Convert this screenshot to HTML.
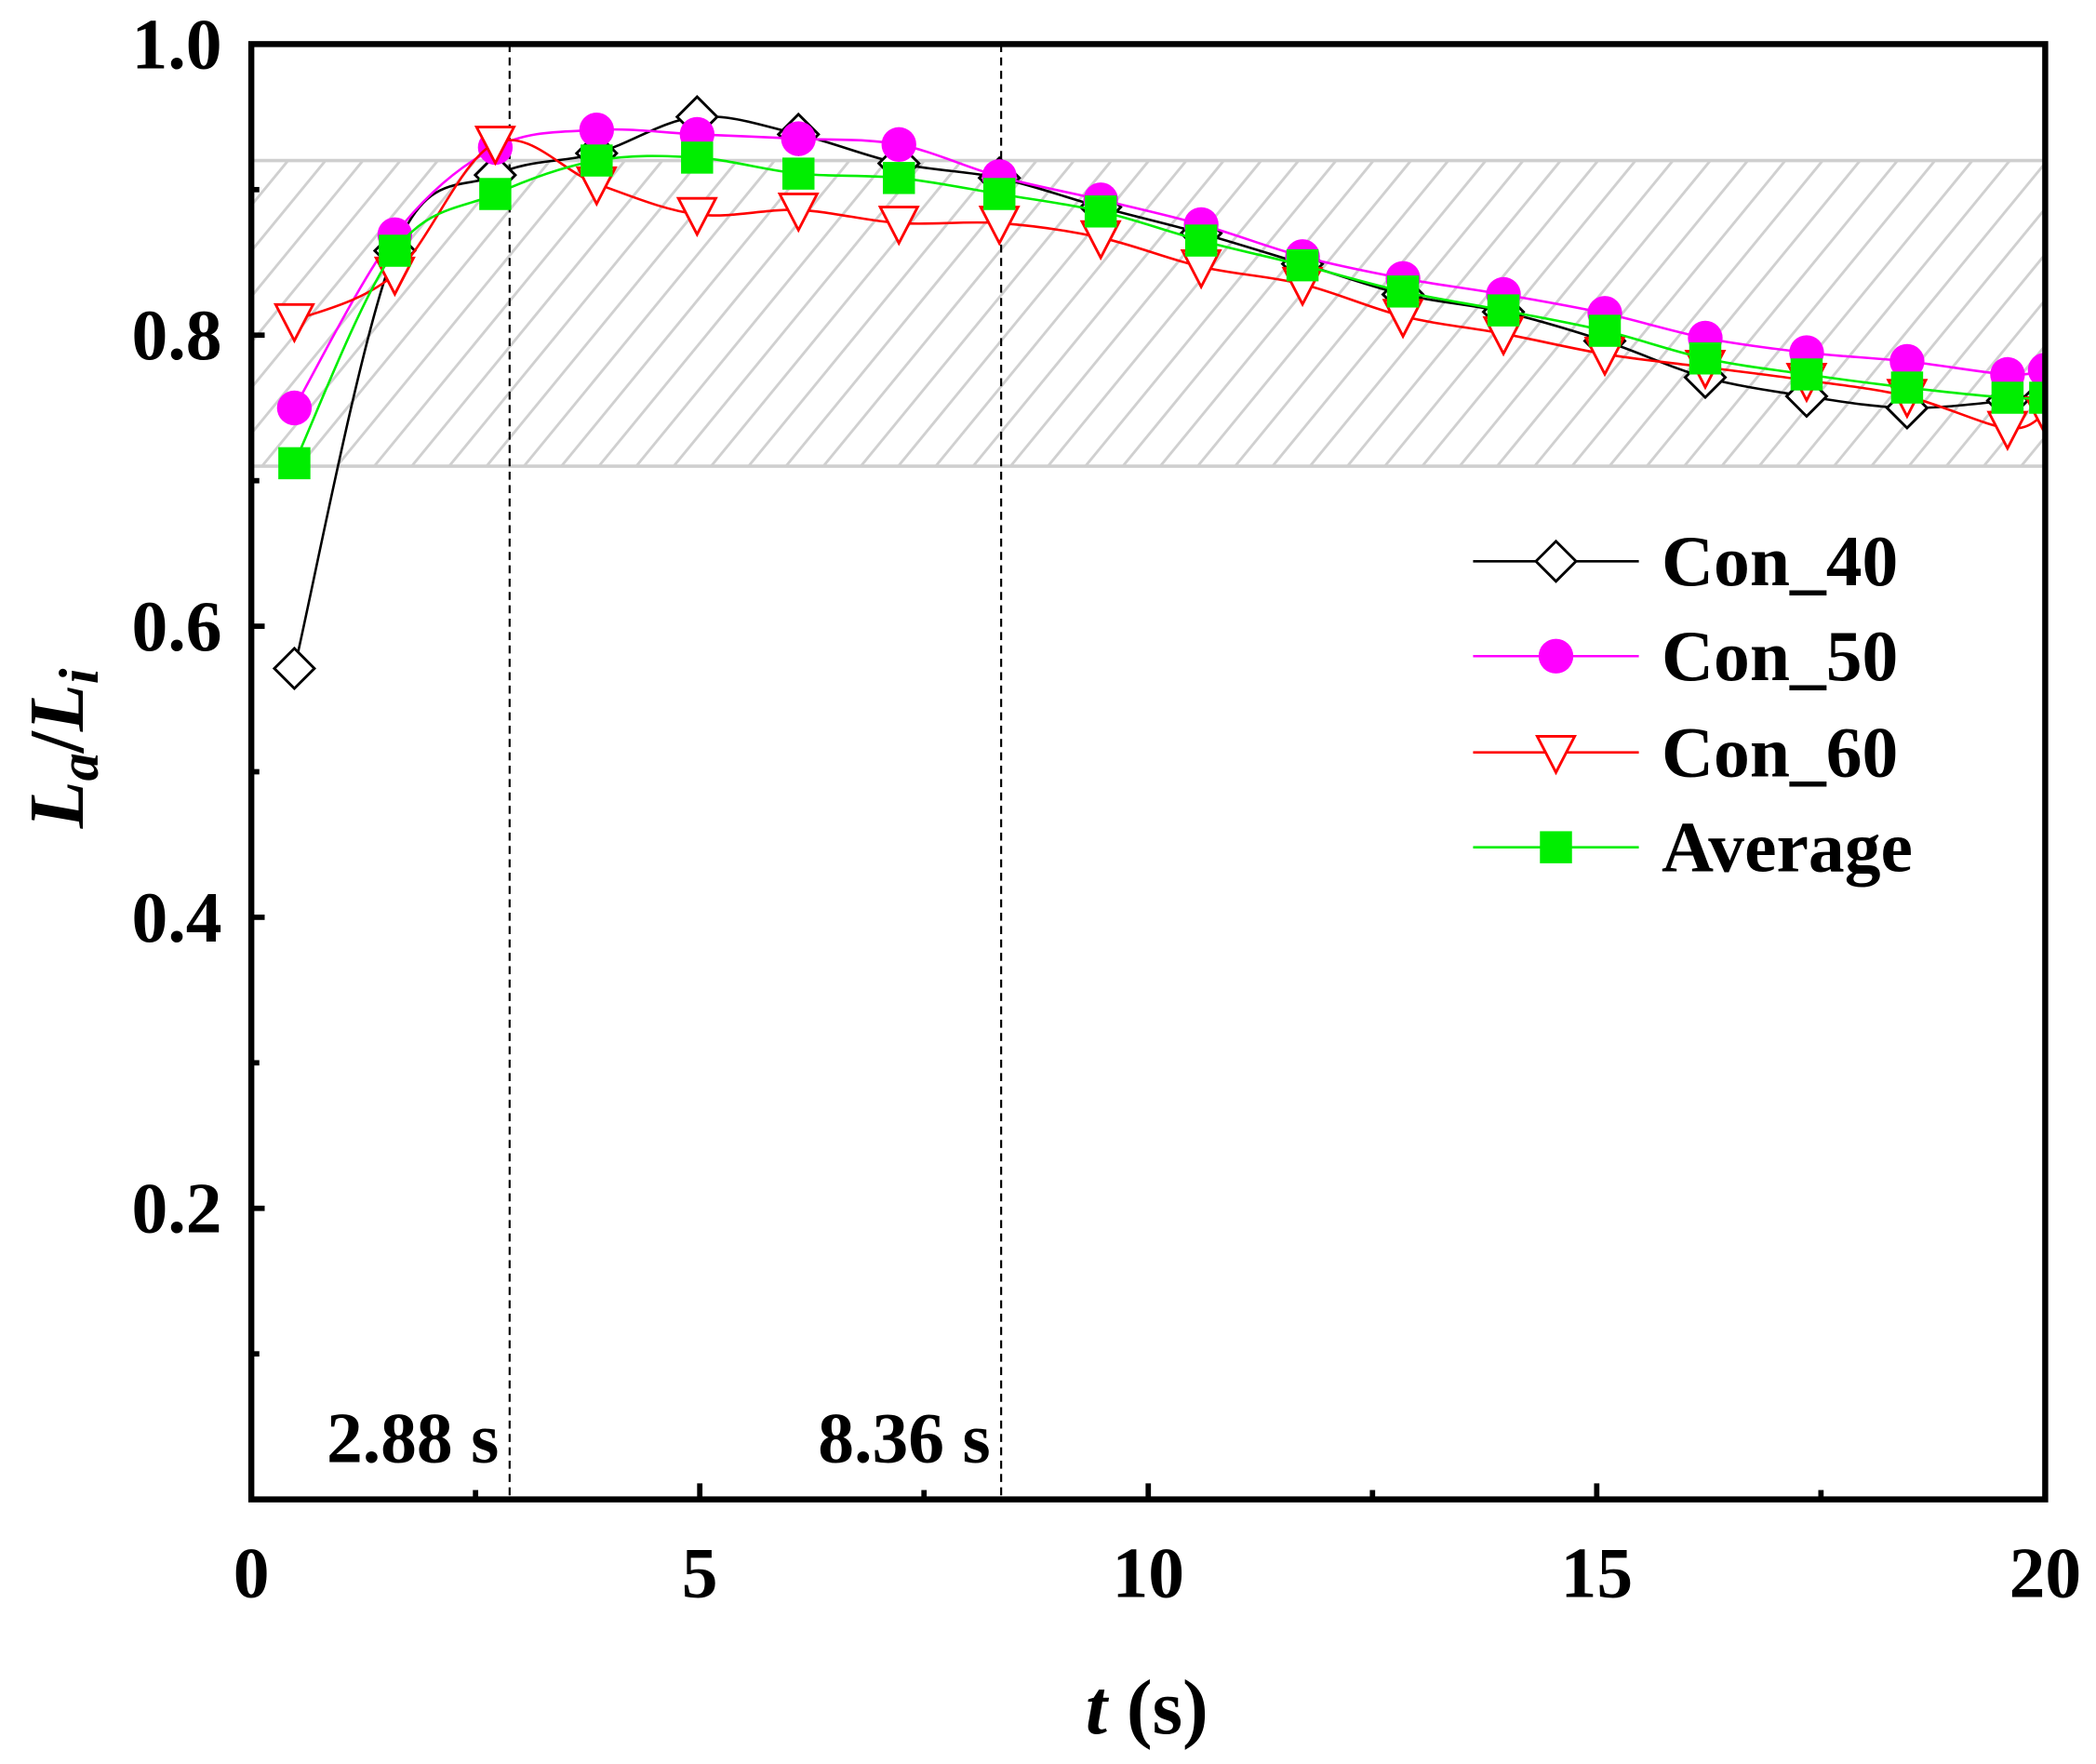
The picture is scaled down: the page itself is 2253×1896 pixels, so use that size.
<!DOCTYPE html>
<html><head><meta charset="utf-8"><style>
html,body{margin:0;padding:0;background:#fff;}
svg{display:block;}
text{font-family:"Liberation Serif",serif;font-weight:bold;fill:#000;}
</style></head><body>
<svg id="chart" width="2253" height="1896" viewBox="0 0 1568 1320" preserveAspectRatio="none" xmlns="http://www.w3.org/2000/svg">
<defs>
<clipPath id="plotclip"><rect x="188" y="33" width="1342" height="1089"/></clipPath>
</defs>
<g id="band" clip-path="url(#plotclip)"></g>
<g id="vlines"></g>
<g id="series" clip-path="url(#plotclip)"></g>
<g id="axes"></g>
<g id="legend"></g>
<text x="858" y="1297" font-size="58" text-anchor="middle"><tspan font-style="italic">t</tspan> (s)</text>
<text transform="translate(62,560) rotate(-90)" font-size="58" text-anchor="middle"><tspan font-style="italic">L</tspan><tspan font-style="italic" font-size="42" dy="11">a</tspan><tspan dy="-11">/</tspan><tspan font-style="italic">L</tspan><tspan font-style="italic" font-size="42" dy="11">i</tspan></text>
</svg>
<script>
const times = [0.48,1.6,2.72,3.85,4.97,6.1,7.22,8.34,9.47,10.59,11.72,12.84,13.96,15.09,16.21,17.34,18.46,19.58,20.0];
const con40 = [0.571,0.858,0.91,0.925,0.95,0.938,0.918,0.908,0.888,0.87,0.849,0.828,0.816,0.796,0.771,0.758,0.75,0.755,0.758];
const con50 = [0.75,0.869,0.929,0.941,0.938,0.935,0.931,0.909,0.893,0.876,0.854,0.839,0.828,0.815,0.798,0.788,0.782,0.773,0.776];
const con60 = [0.81,0.842,0.932,0.904,0.883,0.886,0.877,0.877,0.867,0.847,0.835,0.813,0.801,0.787,0.778,0.769,0.758,0.736,0.746];
const average = [0.712,0.858,0.897,0.92,0.922,0.911,0.908,0.897,0.885,0.865,0.848,0.83,0.817,0.803,0.784,0.773,0.764,0.757,0.757];
const yTicks = [0.2,0.4,0.6,0.8,1.0];
const yTickLabels = ["0.2","0.4","0.6","0.8","1.0"];
const xTicks = [0,5,10,15,20];
const xTickLabels = ["0","5","10","15","20"];
const bandRange = [0.71,0.92];
const refTimes = [2.88,8.36];
const refLabels = ["2.88 s","8.36 s"];

const NS="http://www.w3.org/2000/svg";
const L=188,R=1530,T=33,B=1122;
const xS=v=>L+(v-0)/(20-0)*(R-L);
const yS=v=>B-(v-0)/(1-0)*(B-T);
function mk(tag,attrs,parent){const e=document.createElementNS(NS,tag);for(const k in attrs)e.setAttribute(k,attrs[k]);parent.appendChild(e);return e;}

const band=document.getElementById('band');
const y1=yS(bandRange[1]),y0=yS(bandRange[0]);
const bc=mk('clipPath',{id:'bandclip'},document.querySelector('defs'));
mk('rect',{x:L,y:y1,width:R-L,height:y0-y1},bc);
const hg=mk('g',{'clip-path':'url(#bandclip)'},band);
for(let x=L-300;x<R+50;x+=28){
  const ln=mk('line',{x1:x,y1:y0,x2:x+(y0-y1)*0.82,y2:y1,stroke:'#d0d0d0','stroke-width':2},hg);
  
  
}
[y0,y1].forEach(y=>{const b=mk('line',{x1:L,x2:R,y1:y,y2:y,stroke:'#cfcfcf','stroke-width':2.5},band);

});

const vl=document.getElementById('vlines');
refTimes.forEach((t,i)=>{
  const l=mk('line',{x1:xS(t),x2:xS(t),y1:T,y2:B,stroke:'#000','stroke-width':1.5,'stroke-dasharray':'6,4'},vl);
  
  
  const tx=mk('text',{x:xS(t)-8,y:1094,'font-size':54,'text-anchor':'end'},vl);
  tx.textContent=refLabels[i];
  
  
});

function spline(pts){
  let d=`M${pts[0][0]},${pts[0][1]}`;
  for(let i=0;i<pts.length-1;i++){
    const p0=pts[i-1]||pts[i],p1=pts[i],p2=pts[i+1],p3=pts[i+2]||p2;
    const c1=[p1[0]+(p2[0]-p0[0])/6,p1[1]+(p2[1]-p0[1])/6];
    const c2=[p2[0]-(p3[0]-p1[0])/6,p2[1]-(p3[1]-p1[1])/6];
    d+=` C${c1[0]},${c1[1]} ${c2[0]},${c2[1]} ${p2[0]},${p2[1]}`;
  }
  return d;
}
function marker(type,x,y,color,g){
  let e;
  if(type==='diamond') e=mk('polygon',{points:`${x},${y-15} ${x+15},${y} ${x},${y+15} ${x-15},${y}`,fill:'#fff',stroke:'#000','stroke-width':2},g);
  else if(type==='circle') e=mk('circle',{cx:x,cy:y,r:13,fill:color},g);
  else if(type==='tri') e=mk('polygon',{points:`${x-14},${y-12} ${x+14},${y-12} ${x},${y+15}`,fill:'#fff',stroke:color,'stroke-width':2},g);
  else e=mk('rect',{x:x-12,y:y-12,width:24,height:24,fill:color},g);
  return e;
}
const seriesDefs=[
  {name:'con-40',label:'Con_40',data:con40,color:'#000',type:'diamond'},
  {name:'con-50',label:'Con_50',data:con50,color:'#ff00ff',type:'circle'},
  {name:'con-60',label:'Con_60',data:con60,color:'#ff0000',type:'tri'},
  {name:'average',label:'Average',data:average,color:'#00ee00',type:'square'}
];
const sg=document.getElementById('series');
seriesDefs.forEach(s=>{
  const g=mk('g',{},sg);
  
  
  const pts=times.map((t,i)=>[xS(t),yS(s.data[i])]);
  const p=mk('path',{d:spline(pts),fill:'none',stroke:s.color,'stroke-width':1.8},g);
  
  
  pts.forEach((pt,i)=>{
    const m=marker(s.type,pt[0],pt[1],s.color,g);
    
    
  });
});

const ax=document.getElementById('axes');
const frame=mk('rect',{x:L,y:T,width:R-L,height:B-T,fill:'none',stroke:'#000','stroke-width':4.5},ax);


yTicks.forEach((v,i)=>{
  const t=mk('line',{x1:L,x2:L+10,y1:yS(v),y2:yS(v),stroke:'#000','stroke-width':4},ax);
  
  
  const tx=mk('text',{x:166,y:yS(v)+18,'font-size':54,'text-anchor':'end'},ax);
  tx.textContent=yTickLabels[i];
  
  
});
[0.1,0.3,0.5,0.7,0.9].forEach(v=>{
  const t=mk('line',{x1:L,x2:L+6,y1:yS(v),y2:yS(v),stroke:'#000','stroke-width':4},ax);
  
  
});
xTicks.forEach((v,i)=>{
  const t=mk('line',{x1:xS(v),x2:xS(v),y1:B,y2:B-12,stroke:'#000','stroke-width':4},ax);
  
  
  const tx=mk('text',{x:xS(v),y:1195,'font-size':54,'text-anchor':'middle'},ax);
  tx.textContent=xTickLabels[i];
  
  
});
[2.5,7.5,12.5,17.5].forEach(v=>{
  const t=mk('line',{x1:xS(v),x2:xS(v),y1:B,y2:B-7,stroke:'#000','stroke-width':4},ax);
  
  
});

const lg=document.getElementById('legend');
const ly=[420,491,563,634];
seriesDefs.forEach((s,i)=>{
  const g=mk('g',{},lg);
  
  
  mk('line',{x1:1102,x2:1226,y1:ly[i],y2:ly[i],stroke:s.color,'stroke-width':1.8},g);
  marker(s.type,1164,ly[i],s.color,g);
  const tx=mk('text',{x:1243,y:ly[i]+18,'font-size':54},g);
  tx.textContent=s.label;
});
</script>
</body></html>
